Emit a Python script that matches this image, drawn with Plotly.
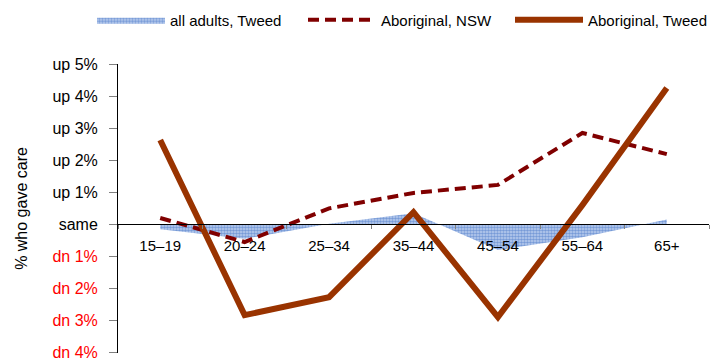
import plotly.graph_objects as go

categories = ["15–19", "20–24", "25–34", "35–44", "45–54", "55–64", "65+"]
all_adults_tweed = [-0.15, -0.45, 0.02, 0.35, -0.8, -0.4, 0.15]
aboriginal_nsw = [0.2, -0.55, 0.5, 0.98, 1.23, 2.85, 2.19]
aboriginal_tweed = [2.63, -2.83, -2.27, 0.38, -2.89, 0.6, 4.25]

ytick_vals = [-4, -3, -2, -1, 0, 1, 2, 3, 4, 5]
ytick_text = ['<span style="color:#FF0000">dn 4%</span>',
              '<span style="color:#FF0000">dn 3%</span>',
              '<span style="color:#FF0000">dn 2%</span>',
              '<span style="color:#FF0000">dn 1%</span>',
              "same", "up 1%", "up 2%", "up 3%", "up 4%", "up 5%"]
y_range = [-4.01, 5]

FONT = "Liberation Sans Narrow, Arial Narrow, Liberation Sans, Arial, sans-serif"

fig = go.Figure()
fig.add_trace(go.Scatter(
    x=categories, y=all_adults_tweed, name="all adults, Tweed", legend="legend",
    mode="lines", line=dict(width=0, color="#4472C4"),
    fill="tozeroy", fillcolor="rgba(0,0,0,0)",
    fillpattern=dict(shape=".", fgcolor="#2F63C0", bgcolor="#BFD1EF", size=3, solidity=0.6),
))
fig.add_trace(go.Scatter(
    x=categories, y=aboriginal_nsw, name="Aboriginal, NSW", legend="legend2",
    mode="lines", line=dict(width=4, color="#800000", dash="11px,6px"),
))
fig.add_trace(go.Scatter(
    x=categories, y=aboriginal_tweed, name="Aboriginal, Tweed", legend="legend3",
    mode="lines", line=dict(width=6, color="#993300"),
))

y_dom = [0.0, 1.0]
zero_pos = y_dom[0] + (0 - y_range[0]) / (y_range[1] - y_range[0]) * (y_dom[1] - y_dom[0])

def leg(xpx):
    return dict(orientation="h", xref="container", yref="container",
                x=xpx / 717, xanchor="left", y=1 - 20 / 358, yanchor="middle",
                itemwidth=68, font=dict(size=15), bgcolor="rgba(0,0,0,0)")

fig.update_layout(
    width=717, height=358,
    margin=dict(l=118, r=8, t=64, b=5, autoexpand=False),
    paper_bgcolor="white", plot_bgcolor="white",
    font=dict(family=FONT, size=15, color="#000000"),
    showlegend=True,
    legend=leg(92), legend2=leg(303), legend3=leg(510),
    xaxis=dict(type="category", range=[-0.5, 6.5], domain=[0, 1],
               anchor="free", position=zero_pos,
               showline=True, linecolor="#000000", linewidth=1,
               ticks="outside", tickson="boundaries", ticklen=4, tickcolor="#808080",
               ticklabelstandoff=8,
               showgrid=False, zeroline=False, tickfont=dict(size=15)),
    yaxis=dict(range=y_range, domain=y_dom, tickvals=ytick_vals, ticktext=ytick_text,
               showline=True, linecolor="#000000", linewidth=1,
               ticks="outside", ticklen=8, tickcolor="#808080",
               ticklabelstandoff=8, ticklabeloverflow="allow",
               showgrid=False, zeroline=False, tickfont=dict(size=16),
               title=dict(text="% who gave care", font=dict(size=16), standoff=20)),
)

fig.write_html("out.html", config={"displayModeBar": False},
               post_script="document.body.style.margin='0';document.body.style.overflow='hidden';")
